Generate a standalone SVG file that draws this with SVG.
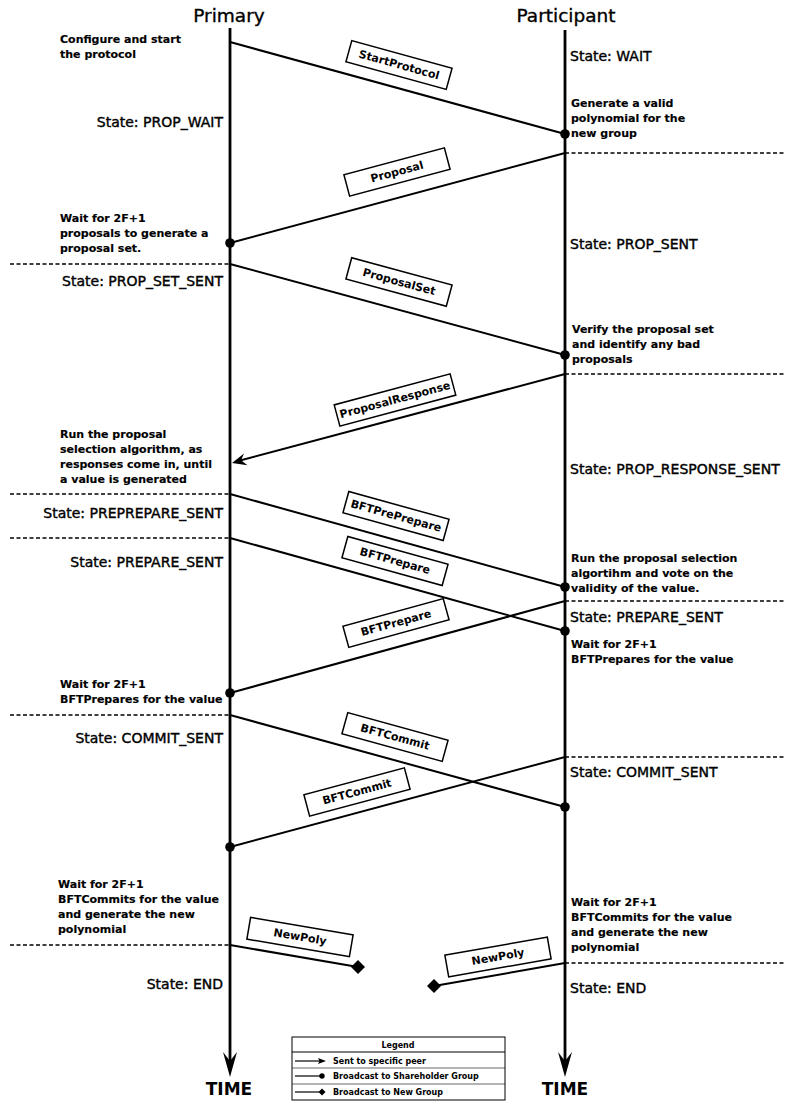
<svg xmlns="http://www.w3.org/2000/svg" width="785" height="1101" viewBox="0 0 785 1101">
  <style>
    .title { font-family: "DejaVu Sans", sans-serif; font-size: 18.5px; fill: #000; stroke: #000; stroke-width: 0.35px; }
    .time { font-family: "DejaVu Sans", sans-serif; font-size: 17px; font-weight: bold; fill: #000; }
    .state { font-family: "DejaVu Sans", sans-serif; font-size: 14px; fill: #000; stroke: #000; stroke-width: 0.4px; }
    .note { font-family: "DejaVu Sans", sans-serif; font-size: 11px; font-weight: bold; fill: #000; stroke: #000; stroke-width: 0.15px; }
    .msgtxt { font-family: "DejaVu Sans", sans-serif; font-size: 11px; font-weight: bold; fill: #000; text-anchor: middle; dominant-baseline: central; }
    .legtxt { font-family: "DejaVu Sans", sans-serif; font-size: 8px; font-weight: bold; fill: #000; }
    .life { stroke: #000; stroke-width: 2.8; fill: none; }
    .msg { stroke: #000; stroke-width: 2; fill: none; }
    .phase { stroke: #000; stroke-width: 1.5; stroke-dasharray: 4 2.5; fill: none; }
    .box { fill: #fff; stroke: #000; stroke-width: 1.5; }
    .dot { fill: #000; }
  </style>
  <defs>
    <g id="msgbox"><rect class="box" x="-52" y="-11" width="104" height="22"/></g>
  </defs>

  <!-- lifelines -->
  <g id="primary">
    <text class="title" x="229" y="22" text-anchor="middle">Primary</text>
    <line class="life" x1="230" y1="28" x2="230" y2="1064"/>
    <path d="M230,1077 L223,1052 L230,1061 L237,1052 Z" fill="#000"/>
    <text class="time" x="229" y="1095" text-anchor="middle">TIME</text>
  </g>
  <g id="participant">
    <text class="title" x="566" y="22" text-anchor="middle">Participant</text>
    <line class="life" x1="565" y1="30" x2="565" y2="1064"/>
    <path d="M565,1077 L558,1052 L565,1061 L572,1052 Z" fill="#000"/>
    <text class="time" x="565" y="1095" text-anchor="middle">TIME</text>
  </g>

  <!-- phase separators -->
  <g id="phases">
    <line class="phase" x1="565" y1="153" x2="785" y2="153"/>
    <line class="phase" x1="10" y1="264" x2="230" y2="264"/>
    <line class="phase" x1="565" y1="374" x2="785" y2="374"/>
    <line class="phase" x1="10" y1="494" x2="230" y2="494"/>
    <line class="phase" x1="10" y1="538" x2="230" y2="538"/>
    <line class="phase" x1="565" y1="601" x2="785" y2="601"/>
    <line class="phase" x1="10" y1="715" x2="230" y2="715"/>
    <line class="phase" x1="565" y1="757" x2="785" y2="757"/>
    <line class="phase" x1="10" y1="945" x2="230" y2="945"/>
    <line class="phase" x1="565" y1="963" x2="785" y2="963"/>
  </g>

  <!-- state labels -->
  <g id="states">
    <text class="state" x="223" y="127" text-anchor="end">State: PROP_WAIT</text>
    <text class="state" x="223" y="286" text-anchor="end">State: PROP_SET_SENT</text>
    <text class="state" x="223" y="518" text-anchor="end">State: PREPREPARE_SENT</text>
    <text class="state" x="223" y="567" text-anchor="end">State: PREPARE_SENT</text>
    <text class="state" x="223" y="743" text-anchor="end">State: COMMIT_SENT</text>
    <text class="state" x="223" y="989" text-anchor="end">State: END</text>
    <text class="state" x="570" y="61">State: WAIT</text>
    <text class="state" x="570" y="249">State: PROP_SENT</text>
    <text class="state" x="570" y="474">State: PROP_RESPONSE_SENT</text>
    <text class="state" x="570" y="622">State: PREPARE_SENT</text>
    <text class="state" x="570" y="777">State: COMMIT_SENT</text>
    <text class="state" x="570" y="993">State: END</text>
  </g>

  <!-- notes -->
  <g id="notes">
    <text class="note" x="60" y="43">Configure and start</text>
    <text class="note" x="60" y="58">the protocol</text>
    <text class="note" x="60" y="222">Wait for 2F+1</text>
    <text class="note" x="60" y="237">proposals to generate a</text>
    <text class="note" x="60" y="252">proposal set.</text>
    <text class="note" x="60" y="438">Run the proposal</text>
    <text class="note" x="60" y="453">selection algorithm, as</text>
    <text class="note" x="60" y="468">responses come in, until</text>
    <text class="note" x="60" y="483">a value is generated</text>
    <text class="note" x="60" y="688">Wait for 2F+1</text>
    <text class="note" x="60" y="703">BFTPrepares for the value</text>
    <text class="note" x="58" y="888">Wait for 2F+1</text>
    <text class="note" x="58" y="903">BFTCommits for the value</text>
    <text class="note" x="58" y="918">and generate the new</text>
    <text class="note" x="58" y="933">polynomial</text>
    <text class="note" x="571" y="107">Generate a valid</text>
    <text class="note" x="571" y="122">polynomial for the</text>
    <text class="note" x="571" y="137">new group</text>
    <text class="note" x="572" y="333">Verify the proposal set</text>
    <text class="note" x="572" y="348">and identify any bad</text>
    <text class="note" x="572" y="363">proposals</text>
    <text class="note" x="571" y="562">Run the proposal selection</text>
    <text class="note" x="571" y="577">algortihm and vote on the</text>
    <text class="note" x="571" y="592">validity of the value.</text>
    <text class="note" x="571" y="648">Wait for 2F+1</text>
    <text class="note" x="571" y="663">BFTPrepares for the value</text>
    <text class="note" x="571" y="906">Wait for 2F+1</text>
    <text class="note" x="571" y="921">BFTCommits for the value</text>
    <text class="note" x="571" y="936">and generate the new</text>
    <text class="note" x="571" y="951">polynomial</text>
  </g>

  <!-- messages -->
  <g id="connectors">
    <line class="msg" x1="230" y1="42" x2="565" y2="134"/>
    <circle class="dot" cx="565" cy="134" r="4.8"/>
    <line class="msg" x1="565" y1="153" x2="230" y2="243"/>
    <circle class="dot" cx="230" cy="243" r="4.8"/>
    <line class="msg" x1="230" y1="264" x2="565" y2="355"/>
    <circle class="dot" cx="565" cy="355" r="4.8"/>
    <line class="msg" x1="565" y1="374" x2="240" y2="460.5"/>
    <path d="M232,463 L244,453.5 L241,460.2 L247.5,465.2 Z" fill="#000"/>
    <line class="msg" x1="230" y1="494" x2="565" y2="587"/>
    <circle class="dot" cx="565" cy="587" r="4.8"/>
    <line class="msg" x1="230" y1="538" x2="565" y2="631"/>
    <circle class="dot" cx="565" cy="631" r="4.8"/>
    <line class="msg" x1="565" y1="601" x2="230" y2="693"/>
    <circle class="dot" cx="230" cy="693" r="4.8"/>
    <line class="msg" x1="230" y1="715" x2="565" y2="807"/>
    <circle class="dot" cx="565" cy="807" r="4.8"/>
    <line class="msg" x1="565" y1="757" x2="230" y2="847"/>
    <circle class="dot" cx="230" cy="847" r="4.8"/>
    <line class="msg" x1="230" y1="945" x2="358" y2="967"/>
    <path d="M358,960 L365,967 L358,974 L351,967 Z" fill="#000"/>
    <line class="msg" x1="565" y1="963" x2="434" y2="986"/>
    <path d="M434,979 L441,986 L434,993 L427,986 Z" fill="#000"/>
  </g>

  <!-- message labels -->
  <g id="label-startprotocol" transform="translate(399,65) rotate(15.4)">
    <use href="#msgbox"/><text class="msgtxt">StartProtocol</text>
  </g>
  <g id="label-proposal" transform="translate(397,172) rotate(-15)">
    <use href="#msgbox"/><text class="msgtxt">Proposal</text>
  </g>
  <g id="label-proposalset" transform="translate(399,282) rotate(15.2)">
    <use href="#msgbox"/><text class="msgtxt">ProposalSet</text>
  </g>
  <g id="label-proposalresponse" transform="translate(395,400) rotate(-15)">
    <rect class="box" x="-60" y="-11" width="120" height="22"/><text class="msgtxt">ProposalResponse</text>
  </g>
  <g id="label-bftpreprepare" transform="translate(396,516) rotate(15.5)">
    <use href="#msgbox"/><text class="msgtxt">BFTPrePrepare</text>
  </g>
  <g id="label-bftprepare-out" transform="translate(395,561) rotate(15.5)">
    <use href="#msgbox"/><text class="msgtxt">BFTPrepare</text>
  </g>
  <g id="label-bftprepare-back" transform="translate(396,623) rotate(-15.4)">
    <use href="#msgbox"/><text class="msgtxt">BFTPrepare</text>
  </g>
  <g id="label-bftcommit-out" transform="translate(395,737) rotate(15.4)">
    <use href="#msgbox"/><text class="msgtxt">BFTCommit</text>
  </g>
  <g id="label-bftcommit-back" transform="translate(357,792) rotate(-15)">
    <use href="#msgbox"/><text class="msgtxt">BFTCommit</text>
  </g>
  <g id="label-newpoly-left" transform="translate(300,937) rotate(9.7)">
    <use href="#msgbox"/><text class="msgtxt">NewPoly</text>
  </g>
  <g id="label-newpoly-right" transform="translate(498,957) rotate(-10)">
    <use href="#msgbox"/><text class="msgtxt">NewPoly</text>
  </g>

  <!-- legend -->
  <g id="legend">
    <rect x="292" y="1037" width="213" height="63" fill="#fff" stroke="#000" stroke-width="1"/>
    <line x1="292" y1="1052" x2="505" y2="1052" stroke="#000" stroke-width="1"/>
    <line x1="292" y1="1068" x2="505" y2="1068" stroke="#000" stroke-width="0.6"/>
    <line x1="292" y1="1084" x2="505" y2="1084" stroke="#000" stroke-width="0.6"/>
    <text class="legtxt" x="398" y="1048" text-anchor="middle">Legend</text>
    <line x1="295" y1="1061" x2="320" y2="1061" stroke="#000" stroke-width="1.2"/>
    <path d="M326,1061 L318,1058 L319.5,1061 L318,1064 Z" fill="#000"/>
    <text class="legtxt" x="333" y="1064">Sent to specific peer</text>
    <line x1="295" y1="1076" x2="322" y2="1076" stroke="#000" stroke-width="1.2"/>
    <circle cx="322" cy="1076" r="2.7" fill="#000"/>
    <text class="legtxt" x="333" y="1079">Broadcast to Shareholder Group</text>
    <line x1="295" y1="1092" x2="319" y2="1092" stroke="#000" stroke-width="1.2"/>
    <path d="M322,1088.5 L325.5,1092 L322,1095.5 L318.5,1092 Z" fill="#000"/>
    <text class="legtxt" x="333" y="1095">Broadcast to New Group</text>
  </g>
</svg>
